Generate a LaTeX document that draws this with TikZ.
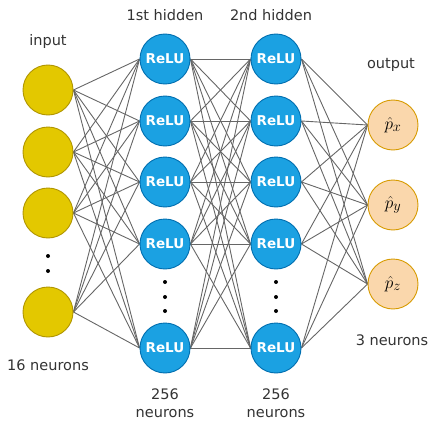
\documentclass[tikz,border=0pt]{standalone}
\usepackage{fontspec}
\setmainfont{DejaVu Sans}
\usetikzlibrary{backgrounds}
\definecolor{yfill}{HTML}{E3C800}
\definecolor{ydraw}{HTML}{B09500}
\definecolor{bfill}{HTML}{1BA1E2}
\definecolor{bdraw}{HTML}{006EAF}
\definecolor{ofill}{HTML}{FAD7AC}
\definecolor{odraw}{HTML}{D79B00}
\definecolor{edgec}{HTML}{666666}
\definecolor{txt}{HTML}{333333}
\begin{document}
\begin{tikzpicture}[x=1pt,y=-1pt,
  inp/.style={circle,fill=yfill,draw=ydraw,line width=0.9pt,minimum size=50pt,inner sep=0pt},
  relu/.style={circle,fill=bfill,draw=bdraw,line width=0.9pt,minimum size=50pt,inner sep=0pt,text=white,font=\fontsize{13.5}{15}\selectfont\bfseries},
  outn/.style={circle,fill=ofill,draw=odraw,line width=0.9pt,minimum size=50pt,inner sep=0pt,font=\fontsize{19}{21}\selectfont},
  lbl/.style={text=txt,font=\fontsize{14.5}{18}\selectfont,align=center},
  conn/.style={draw=edgec,line width=0.9pt},
  dotn/.style={circle,fill=black,inner sep=0pt,minimum size=4pt}]
\useasboundingbox (0,0) rectangle (429,423);
% input layer
\node[inp] (i1) at (48,90) {};
\node[inp] (i2) at (48,152) {};
\node[inp] (i3) at (48,213) {};
\node[inp] (i4) at (48,312) {};
\node[dotn] (id1) at (48,256) {};
\node[dotn] (id2) at (48,271) {};
% hidden layers
\foreach \k/\y in {1/59,2/121,3/182,4/244,5/348} {
  \node[relu] (a\k) at (165,\y) {ReLU};
  \node[relu] (b\k) at (276,\y) {ReLU};
}
\foreach \c in {a,b} {
  \node[dotn] (\c d1) at (\c1 |- 0,282) {};
  \node[dotn] (\c d2) at (\c1 |- 0,297) {};
  \node[dotn] (\c d3) at (\c1 |- 0,311) {};
}
% output
\node[outn] (o1) at (393,125) {$\hat{p}_x$};
\node[outn] (o2) at (393,205) {$\hat{p}_y$};
\node[outn] (o3) at (393,284) {$\hat{p}_z$};
% labels
\node[lbl] (tin) at (48,41) {input};
\node[lbl] (th1) at (165,15) {1st hidden};
\node[lbl] (th2) at (271,15) {2nd hidden};
\node[lbl] (tout) at (391,65) {output};
\node[lbl] (nin) at (48,365) {16 neurons};
\node[lbl] (nh1) at (165,403) {256\\neurons};
\node[lbl] (nh2) at (276,403) {256\\neurons};
\node[lbl] (nout) at (392,340) {3 neurons};
% connectors
\begin{scope}[on background layer]
\foreach \s in {1,2,3,4} \foreach \t in {1,...,5} \draw[conn] (i\s.east) -- (a\t.west);
\foreach \s in {1,...,5} \foreach \t in {1,...,5} \draw[conn] (a\s.east) -- (b\t.west);
\foreach \s in {1,...,5} \foreach \t in {1,2,3} \draw[conn] (b\s.east) -- (o\t.west);
\end{scope}
\end{tikzpicture}
\end{document}
